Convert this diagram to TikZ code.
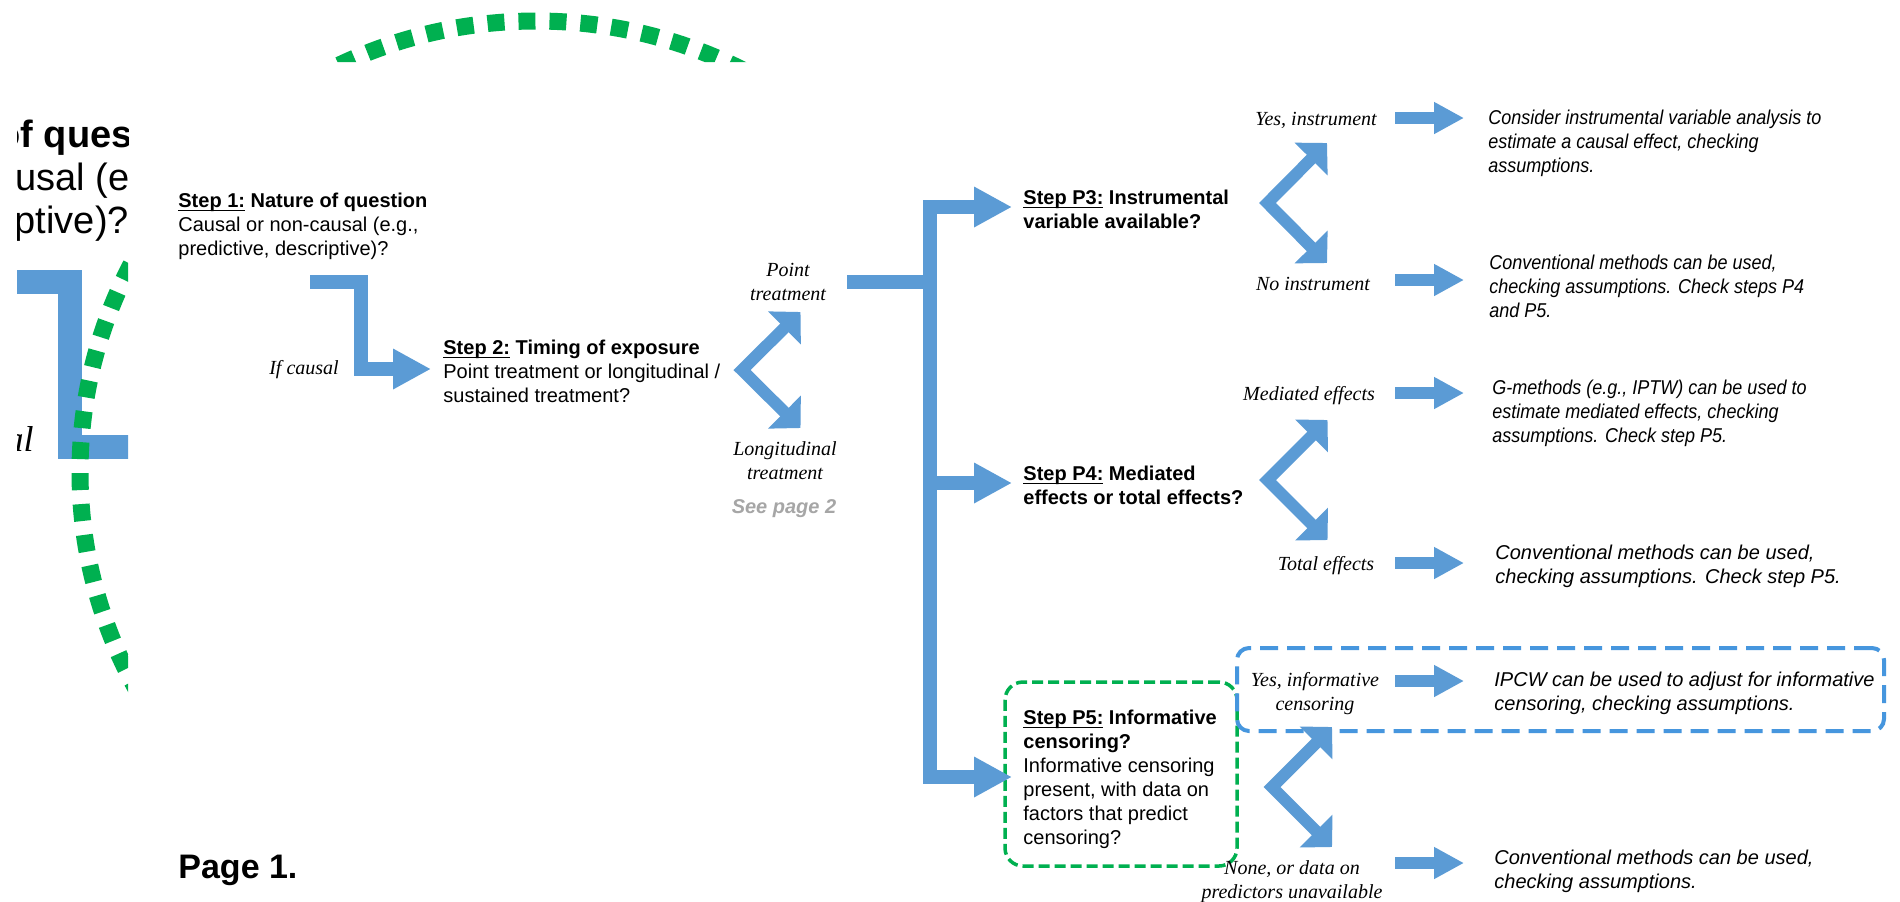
\documentclass[tikz,border=0pt]{standalone}
\usepackage{fontspec}
\setmainfont{Liberation Sans}
\newfontfamily\choicefont{Liberation Serif}
\newfontfamily\narrowsans{Liberation Sans}[FakeStretch=0.9]
\usetikzlibrary{arrows.meta}
\definecolor{flowblue}{RGB}{91,155,213}
\definecolor{censgreen}{RGB}{0,176,80}
\definecolor{boxblue}{RGB}{70,150,222}
\definecolor{hintgray}{RGB}{166,166,166}
% underline that sits just below the baseline, whatever the descenders
\newsavebox\steplabelbox
\newcommand\stepul[1]{\sbox\steplabelbox{#1}\rlap{\rule[-1.7pt]{\wd\steplabelbox}{0.8pt}}\usebox\steplabelbox}
\tikzset{
  stepnode/.style={anchor=north west, inner sep=0pt, align=left, font=\fontsize{10}{12}\selectfont},
  advice/.style={anchor=north west, inner sep=0pt, align=left, font=\fontsize{10}{12}\selectfont\itshape},
  narrowadvice/.style={advice, font=\fontsize{10}{12}\selectfont\narrowsans\itshape},
  choice/.style={anchor=north, inner sep=0pt, align=center, font=\fontsize{10}{12}\selectfont\choicefont\itshape},
  pipe/.style={draw=flowblue, line width=7pt, line join=miter},
  flow/.style={pipe, -{Triangle[length=19pt,width=19pt]}},
  fork/.style={draw=flowblue, line width=6pt, line join=miter,
    {Triangle[length=11.3pt,width=22.6pt]}-{Triangle[length=11.3pt,width=22.6pt]}},
  outcome/.style={draw=flowblue, line width=6pt, -{Triangle[length=15pt,width=15pt]}},
  bigtext/.style={anchor=base west, inner sep=0pt, font=\fontsize{19}{23}\selectfont},
}
\begin{document}
\begin{tikzpicture}[x=0.5pt,y=-0.5pt]
\useasboundingbox (0,0) rectangle (1900,901);
\fill[white] (0,0) rectangle (1900,901);

% enlarged copy of the page, visible only along the left margin and the top edge
\begin{scope}
  \clip (17,0) rectangle (128,901) (0,0) rectangle (1900,62);
  \draw[flowblue, line width=12pt, line join=miter] (0,281.5) -- (70,281.5) -- (70,446.5) -- (140,446.5);
  \node[bigtext, font=\fontsize{19}{23}\selectfont\bfseries] (bgq) at (-3,147) {of question};
  \node[bigtext] (bgc) at (-101,190) {non-causal (e.g.,};
  \node[bigtext] (bgd) at (-87,233) {descriptive)?};
  \node[anchor=base east, inner sep=0pt, font=\fontsize{18}{22}\selectfont\choicefont\itshape] (bgi) at (34,451) {causal};
  \draw[censgreen, line width=8.5pt, dash pattern=on 8.5pt off 7pt] (536,472) ellipse [x radius=228pt, y radius=225.5pt];
\end{scope}

% question nodes
\node[stepnode] (step1) at (178,193) {\textbf{\stepul{Step 1:} Nature of question}\\Causal or non-causal (e.g.,\\predictive, descriptive)?};
\node[stepnode] (step2) at (443,340) {\textbf{\stepul{Step 2:} Timing of exposure}\\Point treatment or longitudinal /\\sustained treatment?};
\node[stepnode] (p3) at (1023,190) {\textbf{\stepul{Step P3:} Instrumental}\\\textbf{variable available?}};
\node[stepnode] (p4) at (1023,466) {\textbf{\stepul{Step P4:} Mediated}\\\textbf{effects or total effects?}};
\node[stepnode] (p5) at (1023,710) {\textbf{\stepul{Step P5:} Informative}\\\textbf{censoring?}\\Informative censoring\\present, with data on\\factors that predict\\censoring?};
\node[draw=censgreen, line width=1.75pt, dash pattern=on 5.5pt off 2.5pt, rounded corners=9pt,
      minimum width=116pt, minimum height=92pt] (p5box) at (1121,774) {};

% answers
\node[choice] (ifcausal) at (304,360) {If causal};
\node[choice] (point) at (788,263) {Point\\treatment};
\node[choice] (longi) at (785,441) {Longitudinal\\treatment};
\node[anchor=north, inner sep=0pt, font=\fontsize{10}{12}\selectfont\bfseries\itshape, text=hintgray] (seep2) at (784,499) {See page 2};
\node[choice] (yesinst) at (1316,112) {Yes, instrument};
\node[choice] (noinst) at (1313,277) {No instrument};
\node[choice] (medeff) at (1309,386) {Mediated effects};
\node[choice] (toteff) at (1326,556) {Total effects};
\node[choice] (yesinf) at (1315,672) {Yes, informative\\censoring};
\node[choice] (noinf) at (1292,860) {None, or data on\\predictors unavailable};

% recommendations
\node[narrowadvice] (r1) at (1488,110) {Consider instrumental variable analysis to\\estimate a causal effect, checking\\assumptions.};
\node[narrowadvice] (r2) at (1489,255) {Conventional methods can be used,\\checking assumptions. Check steps P4\\and P5.};
\node[narrowadvice] (r3) at (1492,380) {G-methods (e.g., IPTW) can be used to\\estimate mediated effects, checking\\assumptions. Check step P5.};
\node[advice] (r4) at (1495,545) {Conventional methods can be used,\\checking assumptions. Check step P5.};
\node[advice] (r5) at (1494,672) {IPCW can be used to adjust for informative\\censoring, checking assumptions.};
\node[advice] (r6) at (1494,850) {Conventional methods can be used,\\checking assumptions.};
\node[draw=boxblue, line width=2pt, dash pattern=on 9pt off 4.5pt, rounded corners=6pt,
      minimum width=323.5pt, minimum height=41.5pt] (ipcwbox) at (1560.5,689.5) {};

\node[anchor=base west, inner sep=0pt, font=\fontsize{17}{20}\selectfont\bfseries] (pagelabel) at (178,878) {Page 1.};

% step 1 to step 2
\coordinate (s1out) at (310,281.5);
\coordinate (elbow) at (361,369);
\coordinate (s2in) at (431,369);
\draw[flow] (s1out) -| (elbow) -- (s2in);

% step 2 fork
\coordinate (f2) at (742,370);
\coordinate (f2a) at (800.5,312);
\coordinate (f2b) at (800.5,428);
\draw[fork] (f2a) -- (f2) -- (f2b);

% point treatment tree
\coordinate (ptout) at (847,281.5);
\coordinate (trunk) at (930,281.5);
\coordinate (t3) at (930,207);
\coordinate (t4) at (930,483);
\coordinate (t5) at (930,777);
\coordinate (p3in) at (1012,207);
\coordinate (p4in) at (1012,483);
\coordinate (p5in) at (1012,777);
\draw[pipe] (ptout) -- (trunk);
\draw[flow] (t5) -- (t3) -- (p3in);
\draw[flow] (t3) -- (t5) -- (p5in);
\draw[flow] (t4) -- (p4in);

% step P3, P4, P5 forks
\coordinate (f3) at (1267.5,203);
\coordinate (f3a) at (1327,143);
\coordinate (f3b) at (1327,263);
\draw[fork] (f3a) -- (f3) -- (f3b);
\coordinate (f4) at (1267.5,480);
\coordinate (f4a) at (1327.5,420);
\coordinate (f4b) at (1327.5,540);
\draw[fork] (f4a) -- (f4) -- (f4b);
\coordinate (f5) at (1272,787);
\coordinate (f5a) at (1332,727);
\coordinate (f5b) at (1332,847);
\draw[fork] (f5a) -- (f5) -- (f5b);

% answer to recommendation arrows
\coordinate (oa) at (1395,0);
\coordinate (ob) at (1464,0);
\coordinate (y1) at (0,118);
\coordinate (y2) at (0,280);
\coordinate (y3) at (0,393);
\coordinate (y4) at (0,563);
\coordinate (y5) at (0,681);
\coordinate (y6) at (0,863);
\foreach \r in {y1,y2,y3,y4,y5,y6}{
  \draw[outcome] (oa |- \r) -- (ob |- \r);
}
\end{tikzpicture}
\end{document}
